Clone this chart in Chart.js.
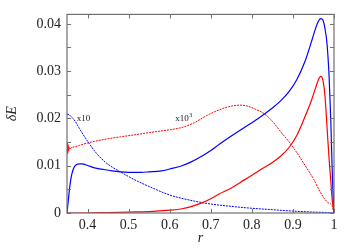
<!DOCTYPE html>
<html><head><meta charset="utf-8">
<script src="https://cdn.jsdelivr.net/npm/chart.js@4"></script>
<style>html,body{margin:0;padding:0;background:#fff}#w{width:354px;height:249px;position:relative}
.pre{position:absolute;left:-999px;top:0;font-family:"Liberation Serif";}
.pre i{font-style:italic}</style>
</head><body><span class="pre">0.04 <i>δE r</i></span><div id="w"><canvas id="c"></canvas></div>
<script>
const xTicks = [0.4, 0.5, 0.6, 0.7, 0.8, 0.9, 1];
const yTicks = [0, 0.01, 0.02, 0.03, 0.04];
const yMinorTicks = [0.005, 0.015, 0.025, 0.035];

const rBlueSolid = [0.35,0.353,0.356,0.36,0.365,0.37,0.375,0.38,0.387,0.395,0.405,0.42,0.44,0.46,0.48,0.50,0.53,0.55,0.58,0.60,0.63,0.65,0.68,0.70,0.72,0.75,0.78,0.80,0.83,0.85,0.87,0.89,0.91,0.93,0.945,0.955,0.963,0.968,0.973,0.978,0.983,0.988,0.992,0.996,1.0];
const blueSolid  = [0,0.0025,0.005,0.0075,0.0092,0.0100,0.0103,0.0104,0.0104,0.0102,0.0099,0.0095,0.0092,0.0089,0.0087,0.0086,0.0086,0.0087,0.0089,0.0093,0.0100,0.0107,0.0121,0.0132,0.0145,0.0163,0.0180,0.0191,0.0209,0.0222,0.0237,0.0256,0.0283,0.0322,0.0362,0.0390,0.0407,0.0411,0.0408,0.0390,0.0358,0.0290,0.0200,0.0080,0];

const rBlueDashed = [0.35,0.355,0.36,0.37,0.38,0.39,0.40,0.42,0.44,0.46,0.48,0.50,0.52,0.55,0.60,0.65,0.70,0.75,0.80,0.85,0.90,0.95,0.98,1.0];
const blueDashed  = [0.0209,0.0208,0.0204,0.0194,0.0179,0.0165,0.0152,0.0128,0.0110,0.0097,0.0087,0.0077,0.0068,0.0056,0.0038,0.0027,0.0019,0.0014,0.0010,0.0007,0.0004,0.0002,0.0001,0];

const rRedSolid = [0.35,0.40,0.45,0.50,0.55,0.60,0.63,0.65,0.68,0.70,0.72,0.75,0.78,0.80,0.82,0.85,0.87,0.89,0.91,0.93,0.945,0.955,0.962,0.968,0.973,0.978,0.983,0.988,0.992,0.996,1.0];
const redSolid  = [0,0,0.0001,0.0002,0.0003,0.0006,0.0009,0.0013,0.0022,0.0030,0.0040,0.0053,0.0069,0.0080,0.0091,0.0107,0.0120,0.0138,0.0165,0.0205,0.0238,0.0264,0.0282,0.0289,0.0281,0.0248,0.0182,0.0115,0.0070,0.0025,0];

const rRedDashed = [0.35,0.3505,0.351,0.3515,0.352,0.3525,0.353,0.354,0.355,0.357,0.36,0.37,0.38,0.40,0.42,0.45,0.48,0.52,0.55,0.60,0.63,0.66,0.69,0.72,0.75,0.77,0.79,0.81,0.83,0.85,0.87,0.89,0.91,0.93,0.95,0.97,0.985,0.995,1.0];
const redDashed  = [0.0148,0.0124,0.0150,0.0126,0.0146,0.0128,0.0143,0.0131,0.0139,0.0135,0.0138,0.0140,0.0143,0.0148,0.0152,0.0157,0.0161,0.0166,0.0170,0.0176,0.0181,0.0191,0.0206,0.0218,0.0226,0.0228,0.0226,0.0219,0.0210,0.0194,0.0172,0.0151,0.0127,0.0100,0.0072,0.0039,0.0022,0.0016,0];

const notes = [
  {text: 'x10', sup: '', r: 0.3737, v: 0.0194},
  {text: 'x10', sup: '3', r: 0.6134, v: 0.0194}
];

function pts(rs, vs){ return rs.map((r,i)=>({x:r, y:vs[i]})); }

const frameColor = '#707070';
const serif = '"Liberation Serif", "DejaVu Serif", serif';

const framePlugin = {
  id: 'frame',
  afterDatasetsDraw(chart){
    const {ctx, chartArea:a, scales:{x, y}} = chart;
    ctx.save();
    ctx.strokeStyle = frameColor;
    ctx.lineWidth = 1.2;
    ctx.strokeRect(a.left, a.top, a.right - a.left, a.bottom - a.top);
    ctx.lineWidth = 1;
    ctx.beginPath();
    const tl = 4;
    xTicks.forEach(v => {
      const p = Math.round(x.getPixelForValue(v)) + 0.5;
      ctx.moveTo(p, a.bottom); ctx.lineTo(p, a.bottom - tl);
      ctx.moveTo(p, a.top); ctx.lineTo(p, a.top + tl);
    });
    yTicks.concat(yMinorTicks).forEach(v => {
      const p = Math.round(y.getPixelForValue(v)) + 0.5;
      ctx.moveTo(a.left, p); ctx.lineTo(a.left + tl, p);
      ctx.moveTo(a.right, p); ctx.lineTo(a.right - tl, p);
    });
    ctx.stroke();
    ctx.fillStyle = '#222';
    ctx.textBaseline = 'alphabetic';
    notes.forEach(n => {
      const px = x.getPixelForValue(n.r), py = y.getPixelForValue(n.v);
      ctx.font = '9px ' + serif;
      ctx.fillText(n.text, px, py);
      if (n.sup) {
        const w = ctx.measureText(n.text).width;
        ctx.font = '6px ' + serif;
        ctx.fillText(n.sup, px + w + 0.5, py - 4);
      }
    });
    ctx.restore();
  }
};

const common = {pointRadius:0, showLine:true, cubicInterpolationMode:'monotone', fill:false};

function build(){
new Chart(document.getElementById('c'), {
  type: 'scatter',
  data: {
    datasets: [
      Object.assign({label:'blue solid', data: pts(rBlueSolid, blueSolid), borderColor:'#0000ff', borderWidth:1.2}, common),
      Object.assign({label:'red solid', data: pts(rRedSolid, redSolid), borderColor:'#ff0000', borderWidth:1.2}, common),
      Object.assign({label:'blue dashed', data: pts(rBlueDashed, blueDashed), borderColor:'#0000ff', borderWidth:1, borderDash:[2,1]}, common),
      Object.assign({label:'red dashed', data: pts(rRedDashed, redDashed), borderColor:'#ff0000', borderWidth:1, borderDash:[2,1]}, common)
    ]
  },
  options: {
    responsive: true,
    maintainAspectRatio: false,
    animation: false,
    devicePixelRatio: 1,
    layout: {padding: {left:0, right:20, top:14, bottom:0}},
    plugins: {legend:{display:false}, tooltip:{enabled:false}},
    scales: {
      x: {
        type:'linear', min:0.35, max:1,
        grid:{display:false, drawTicks:false}, border:{display:false},
        afterBuildTicks: s => { s.ticks = xTicks.map(v=>({value:v})); },
        afterFit: s => { s.height = 36; },
        ticks:{padding:4, color:'#222', font:{family:serif, size:14}, maxRotation:0, autoSkip:false,
          callback: v => (v === 1 ? '1' : v.toFixed(1))},
        title:{display:true, text:'r', color:'#222', font:{family:serif, size:14, style:'italic'}, padding:{top:0, bottom:2}}
      },
      y: {
        type:'linear', min:0, max:0.042,
        grid:{display:false, drawTicks:false}, border:{display:false},
        afterBuildTicks: s => { s.ticks = yTicks.map(v=>({value:v})); },
        afterFit: s => { s.width = 67; },
        ticks:{padding:6, color:'#222', font:{family:serif, size:14}, autoSkip:false,
          callback: v => (v === 0 ? '0' : v.toFixed(2))},
        title:{display:true, text:'δE', color:'#222', font:{family:serif, size:14, style:'italic'}, padding:{top:4, bottom:0}}
      }
    }
  },
  plugins: [framePlugin]
});
}
if (document.fonts && document.fonts.load) {
  Promise.all([document.fonts.load('14px "Liberation Serif"'), document.fonts.load('italic 14px "Liberation Serif"')]).then(build, build);
} else build();
</script>
</body></html>
